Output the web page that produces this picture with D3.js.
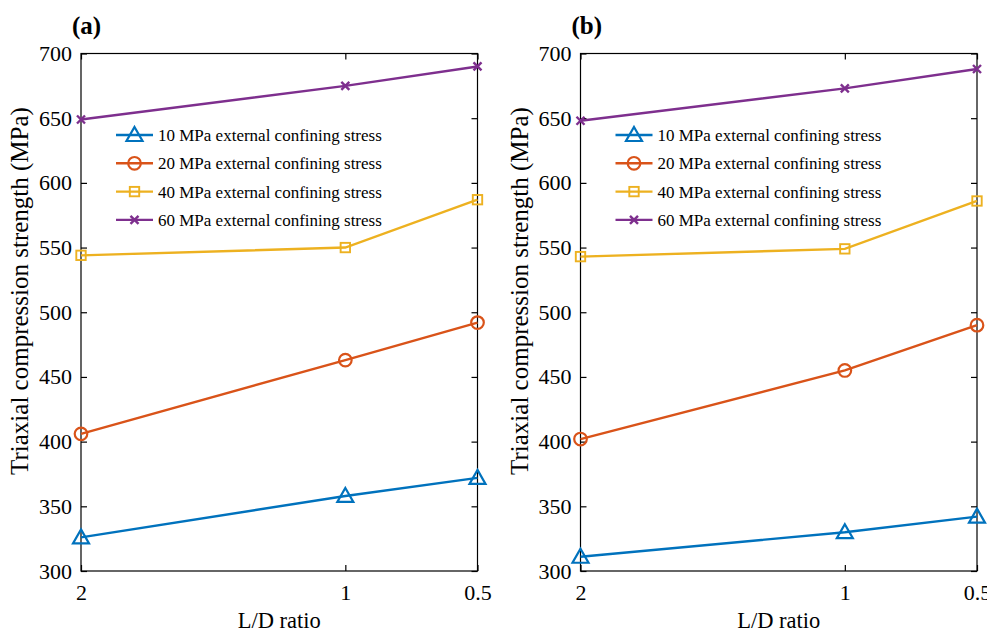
<!DOCTYPE html>
<html>
<head>
<meta charset="utf-8">
<script src="https://cdn.jsdelivr.net/npm/d3@7"></script>
<style>
  html, body { margin: 0; padding: 0; background: #fff; }
  svg { display: block; }
  text { font-family: "Liberation Serif", "Times New Roman", serif; fill: #000; }
</style>
</head>
<body>
<svg id="chart" width="987" height="632"></svg>
<script>
// L/D ratios on the x axis (reversed: 2 on the left, 0.5 on the right)
const ratios = [2, 1, 0.5];
const xTicks = [2, 1, 0.5];
const yTicks = [300, 350, 400, 450, 500, 550, 600, 650, 700];

const seriesNames = [
  "10 MPa external confining stress",
  "20 MPa external confining stress",
  "40 MPa external confining stress",
  "60 MPa external confining stress"
];
const seriesColors = ["#0072BD", "#D95319", "#EDB120", "#7E2F8E"];
const seriesMarkers = ["triangle", "circle", "square", "cross"];

// Panel (a) strengths, MPa
const panelA_10 = [326, 358, 372];
const panelA_20 = [406, 463, 492];
const panelA_40 = [544, 550, 587];
const panelA_60 = [649, 675, 690];

// Panel (b) strengths, MPa
const panelB_10 = [311, 330, 342];
const panelB_20 = [402, 455, 490];
const panelB_40 = [543, 549, 586];
const panelB_60 = [648, 673, 688];

const panels = [
  { label: "(a)", left: 81, series: [panelA_10, panelA_20, panelA_40, panelA_60] },
  { label: "(b)", left: 580.5, series: [panelB_10, panelB_20, panelB_40, panelB_60] }
];

const svg = d3.select("#chart");
const plotW = 396.5, plotTop = 53.5, plotBottom = 571;
const serif = "'Liberation Serif', 'Times New Roman', serif";

function drawMarker(g, type, color) {
  if (type === "triangle") {
    g.append("path").attr("d", "M0,-8L8,6L-8,6Z")
      .attr("fill", "none").attr("stroke", color).attr("stroke-width", 2.2);
  } else if (type === "circle") {
    g.append("circle").attr("r", 6.3)
      .attr("fill", "none").attr("stroke", color).attr("stroke-width", 2.2);
  } else if (type === "square") {
    g.append("rect").attr("x", -4.7).attr("y", -4.7).attr("width", 9.4).attr("height", 9.4)
      .attr("fill", "none").attr("stroke", color).attr("stroke-width", 1.9);
  } else {
    g.append("path").attr("d", "M-4,-4L4,4M-4,4L4,-4")
      .attr("fill", "none").attr("stroke", color).attr("stroke-width", 2.4);
  }
}

panels.forEach(p => {
  const x = d3.scaleLinear().domain([2, 0.5]).range([p.left, p.left + plotW]);
  const y = d3.scaleLinear().domain([300, 700]).range([plotBottom, plotTop]);
  const g = svg.append("g").attr("font-family", serif);

  // frame
  g.append("rect").attr("x", p.left).attr("y", plotTop).attr("width", plotW).attr("height", plotBottom - plotTop)
    .attr("fill", "none").attr("stroke", "#000").attr("stroke-width", 1.2);

  // inward ticks: bottom/left with labels, top/right mirrored
  const xb = d3.axisBottom(x).tickValues(xTicks).tickSizeInner(-6).tickSizeOuter(0)
    .tickPadding(13).tickFormat(d3.format(""));
  const yl = d3.axisLeft(y).tickValues(yTicks).tickSizeInner(-6).tickSizeOuter(0).tickPadding(9);
  const xt = d3.axisTop(x).tickValues(xTicks).tickSizeInner(-6).tickSizeOuter(0).tickFormat("");
  const yr = d3.axisRight(y).tickValues(yTicks).tickSizeInner(-6).tickSizeOuter(0).tickFormat("");

  [[xb, `translate(0,${plotBottom})`], [yl, `translate(${p.left},0)`],
   [xt, `translate(0,${plotTop})`], [yr, `translate(${p.left + plotW},0)`]].forEach(([ax, tr]) => {
    const a = g.append("g").attr("transform", tr).call(ax);
    a.attr("font-family", serif).attr("font-size", 22);
    a.select(".domain").remove();
    a.selectAll("line").attr("stroke", "#000").attr("stroke-width", 1.2);
    a.selectAll("text").attr("fill", "#000");
  });

  // series
  const line = d3.line().x((d, i) => x(ratios[i])).y(d => y(d));
  p.series.forEach((vals, si) => {
    const c = seriesColors[si];
    g.append("path").datum(vals).attr("d", line)
      .attr("fill", "none").attr("stroke", c).attr("stroke-width", 2.4);
    vals.forEach((v, i) => {
      const m = g.append("g").attr("transform", `translate(${x(ratios[i])},${y(v)})`);
      drawMarker(m, seriesMarkers[si], c);
    });
  });

  // legend
  const lx = p.left + 35, ly0 = 135, dy = 28.3;
  seriesNames.forEach((name, si) => {
    const c = seriesColors[si];
    const yy = ly0 + si * dy;
    g.append("line").attr("x1", lx).attr("x2", lx + 37).attr("y1", yy).attr("y2", yy)
      .attr("stroke", c).attr("stroke-width", 2.4);
    const m = g.append("g").attr("transform", `translate(${lx + 18.5},${yy})`);
    drawMarker(m, seriesMarkers[si], c);
    g.append("text").attr("x", lx + 42).attr("y", yy + 6).attr("font-size", 17).text(name);
  });

  // axis titles
  g.append("text").attr("x", p.left + plotW / 2).attr("y", 628).attr("text-anchor", "middle")
    .attr("font-size", 22.5).text("L/D ratio");
  g.append("text").attr("transform", `translate(${p.left - 53},291) rotate(-90)`)
    .attr("text-anchor", "middle").attr("font-size", 25).text("Triaxial compression strength (MPa)");

  // panel label
  g.append("text").attr("x", p.left - 9).attr("y", 34).attr("font-size", 25).attr("font-weight", "bold")
    .text(p.label);
});
</script>
</body>
</html>
